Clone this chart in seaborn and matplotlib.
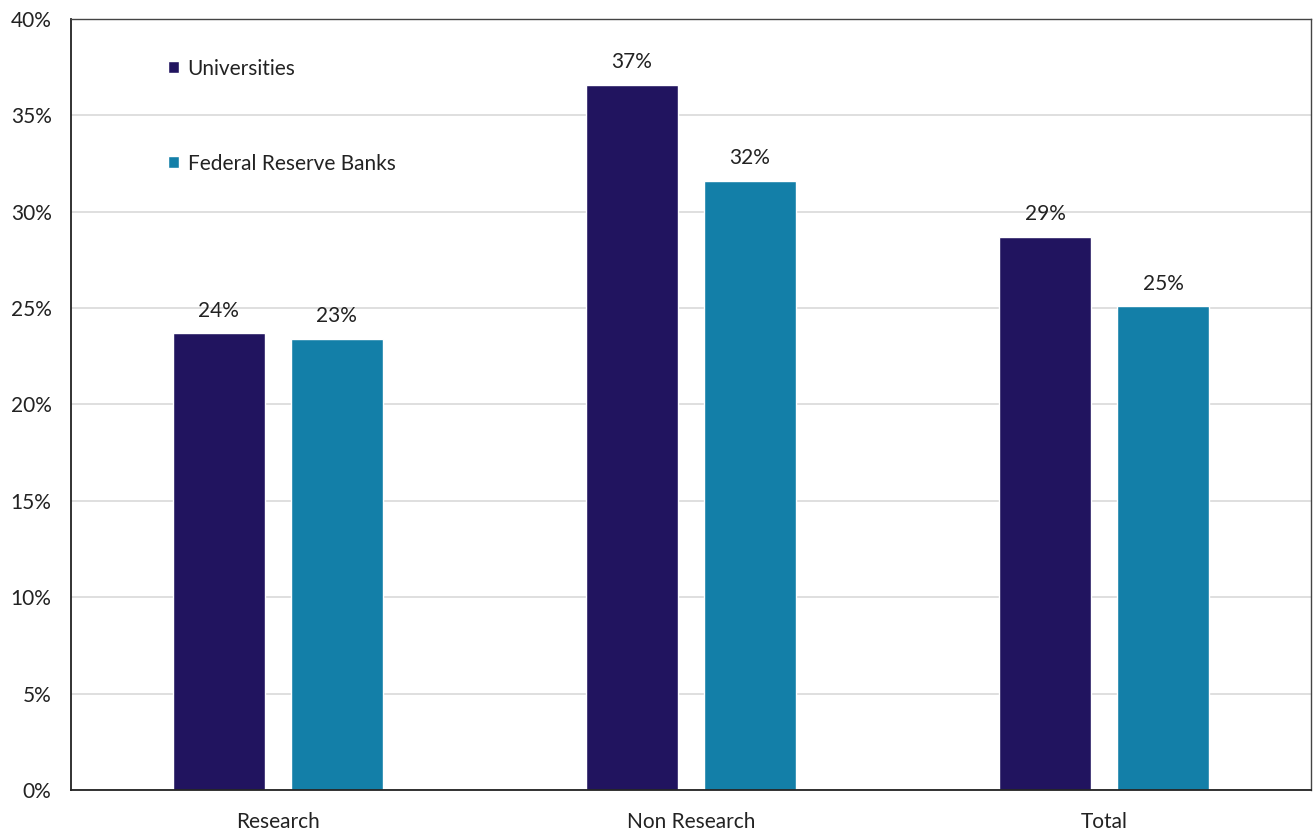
import matplotlib
matplotlib.use("Agg")
import matplotlib.pyplot as plt
import seaborn as sns
import pandas as pd
from matplotlib.ticker import FuncFormatter, MultipleLocator

categories = ["Research", "Non Research", "Total"]
groups = ["Universities", "Federal Reserve Banks"]
universities = [23.7, 36.6, 28.7]
reserve_banks = [23.4, 31.6, 25.1]
colors = ["#21145F", "#137FA8"]

df = pd.DataFrame({
    "category": categories * 2,
    "group": [groups[0]] * 3 + [groups[1]] * 3,
    "value": universities + reserve_banks,
})

sns.set_theme(style="white")
plt.rcParams["font.family"] = ["Lato", "DejaVu Sans"]

fig = plt.figure(figsize=(13.13, 8.34), dpi=100)
ax = fig.add_axes([71 / 1313, 1 - 790 / 834, 1240 / 1313, 771 / 834])

sns.barplot(data=df, x="category", y="value", hue="group", order=categories,
            hue_order=groups, palette=colors, width=0.571, gap=0.22,
            saturation=1, ax=ax, errorbar=None)

ax.set_ylim(0, 40)
ax.yaxis.set_major_locator(MultipleLocator(5))
ax.yaxis.set_major_formatter(FuncFormatter(lambda v, _: f"{v:.0f}%"))
ax.grid(axis="y", color="#D9D9D9", linewidth=1.2)
ax.set_axisbelow(True)
ax.set_xlabel("")
ax.set_ylabel("")
ax.tick_params(axis="both", length=0, labelsize=15, colors="#222222")
ax.tick_params(axis="y", pad=14)
ax.tick_params(axis="x", pad=16)

for side in ["left", "bottom"]:
    ax.spines[side].set_color("#222222")
    ax.spines[side].set_linewidth(1.3)
for side in ["top", "right"]:
    ax.spines[side].set_color("#444444")
    ax.spines[side].set_linewidth(1.0)

for container in ax.containers:
    ax.bar_label(container, labels=[f"{b.get_height():.0f}%" for b in container],
                 padding=9, fontsize=15, color="#222222")

ax.legend(loc="upper left", bbox_to_anchor=(0.063, 0.973), frameon=False,
          fontsize=15, handlelength=0.55, handleheight=0.55,
          handletextpad=0.4, labelspacing=3.6, labelcolor="#222222")

fig.savefig("out.png", dpi=100)
